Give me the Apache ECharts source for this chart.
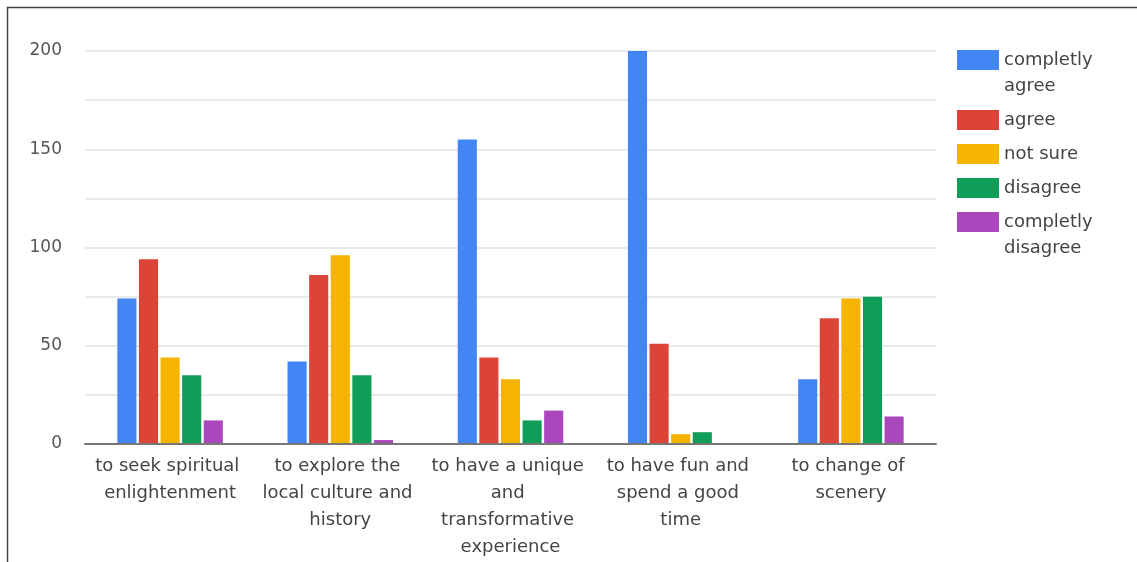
<!DOCTYPE html>
<html>
<head>
<meta charset="utf-8">
<script src="https://cdn.jsdelivr.net/npm/echarts@6/dist/echarts.min.js"></script>
<style>
  html, body { margin: 0; padding: 0; background: #ffffff; }
  #chart { width: 1137px; height: 562px; }
</style>
</head>
<body>
<div id="chart"></div>
<script>
// Reasons for travelling: number of answers per agreement level
const categories = [
  'to seek spiritual enlightenment',
  'to explore the local culture and history',
  'to have a unique and transformative experience',
  'to have fun and spend a good time',
  'to change of scenery'
];
const completlyAgree    = [74, 42, 155, 200, 33];
const agree             = [94, 86, 44, 51, 64];
const notSure           = [44, 96, 33, 5, 74];
const disagree          = [35, 35, 12, 6, 75];
const completlyDisagree = [12, 2, 17, 0, 14];

const seriesNames  = ['completly agree', 'agree', 'not sure', 'disagree', 'completly disagree'];
const seriesValues = [completlyAgree, agree, notSure, disagree, completlyDisagree];
const palette      = ['#4285F4', '#DB4437', '#F4B400', '#0F9D58', '#AB47BC'];

const FONT = 'DejaVu Sans';
const LINE = 26;

// A wrapped name gets an empty leading line so that its first line sits
// level with the swatch (legend text is centred on the swatch).
function legendBlock(names, top, twoLine) {
  return {
    data: names,
    orient: 'vertical',
    left: 957,
    top: top,
    padding: 0,
    itemGap: 8,
    itemWidth: 42,
    itemHeight: 20,
    icon: 'rect',
    selectedMode: false,
    formatter: twoLine ? (n) => '\u00a0\n' + n.replace(' ', '\n') : '{name}',
    textStyle: {
      fontFamily: FONT,
      fontSize: 18,
      color: '#444',
      lineHeight: LINE
    }
  };
}

const chart = echarts.init(document.getElementById('chart'), null, { renderer: 'canvas' });

chart.setOption({
  animation: false,
  backgroundColor: '#ffffff',
  color: palette,
  graphic: [{
    type: 'rect',
    shape: { x: 7.5, y: 7.5, width: 1140, height: 600 },
    style: { fill: 'none', stroke: '#444', lineWidth: 1.5 },
    silent: true,
    z: 100
  }],
  legend: [
    legendBlock(['completly agree'], 21, true),
    legendBlock(['agree', 'not sure', 'disagree'], 107, false),
    legendBlock(['completly disagree'], 183, true)
  ],
  grid: { left: 85, right: 201, top: 51, bottom: 118, containLabel: false },
  xAxis: {
    type: 'category',
    data: categories,
    axisTick: { show: false },
    axisLine: { show: true, lineStyle: { color: '#777', width: 2 } },
    z: 10,
    axisLabel: {
      interval: 0,
      margin: 9,
      fontFamily: FONT,
      fontSize: 18,
      color: '#444',
      lineHeight: 27,
      width: 162,
      overflow: 'break'
    }
  },
  yAxis: {
    type: 'value',
    min: 0,
    max: 200,
    interval: 25,
    axisLine: { show: false },
    axisTick: { show: false },
    splitLine: { lineStyle: { color: '#e3e3e3', width: 1.5 } },
    axisLabel: {
      margin: 23,
      fontFamily: FONT,
      fontSize: 17,
      color: '#555',
      formatter: (v) => (v % 50 === 0 ? String(v) : '')
    }
  },
  series: seriesNames.map((name, i) => ({
    name: name,
    type: 'bar',
    data: seriesValues[i],
    barCategoryGap: '38%',
    barGap: '13%',
    itemStyle: { color: palette[i] }
  }))
});
</script>
</body>
</html>
